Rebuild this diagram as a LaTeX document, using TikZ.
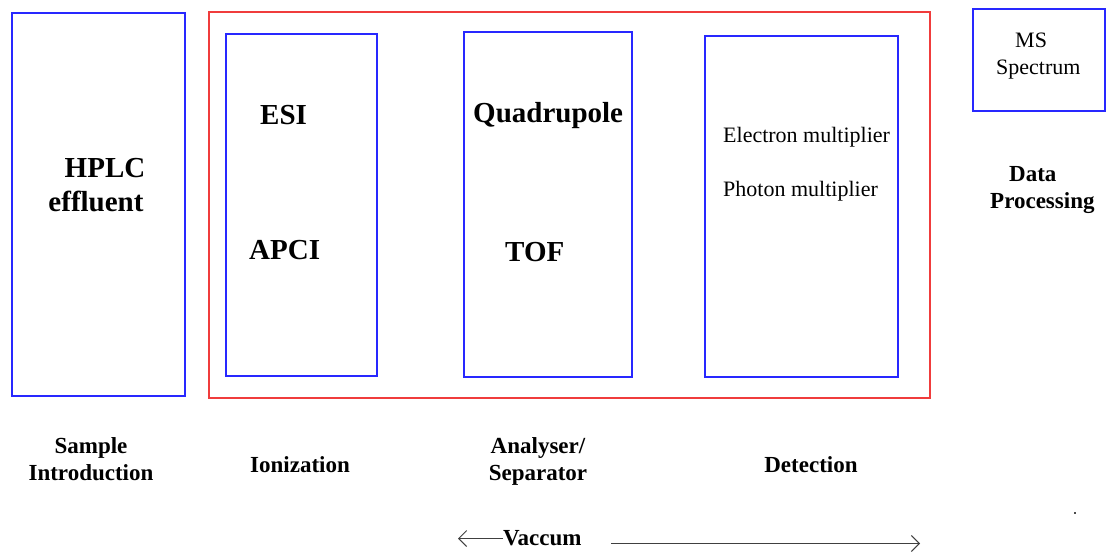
\documentclass[tikz,border=0pt]{standalone}
\usepackage{fontspec}
\setmainfont{Liberation Serif}
\usetikzlibrary{arrows.meta}
\definecolor{bxblue}{RGB}{40,40,255}
\definecolor{bxred}{RGB}{240,60,60}
\tikzset{
  bbox/.style={draw=bxblue, line width=1.7pt},
  rbox/.style={draw=bxred, line width=1.7pt},
  big/.style={font=\fontsize{29}{33}\selectfont\bfseries, inner sep=0pt},
  lab/.style={font=\fontsize{23}{27}\selectfont\bfseries, inner sep=0pt},
  small/.style={font=\fontsize{22}{26}\selectfont, inner sep=0pt},
  varrow/.style={draw=black!75, line width=1.5pt, -{Straight Barb[length=8pt,width=16pt,line width=1pt]}}
}
\begin{document}
\begin{tikzpicture}[x=1pt,y=-1pt]
\useasboundingbox (0,0) rectangle (1106,552);
% boxes
\draw[bbox] (12,13) rectangle (185,396);
\draw[rbox] (209,12) rectangle (930,398);
\draw[bbox] (226,34) rectangle (377,376);
\draw[bbox] (464,32) rectangle (632,377);
\draw[bbox] (705,36) rectangle (898,377);
\draw[bbox] (973,9) rectangle (1105,111);
% box texts
\node[big, anchor=base] (hplc) at (105,177) {HPLC};
\node[big, anchor=base] (eff) at (96,211) {effluent};
\node[big, anchor=base west] (esi) at (260,124) {ESI};
\node[big, anchor=base west] (apci) at (249,259) {APCI};
\node[big, anchor=base west] (quad) at (473,122) {Quadrupole};
\node[big, anchor=base west] (tof) at (505,261) {TOF};
\node[small, anchor=base west] (em) at (723,142) {Electron multiplier};
\node[small, anchor=base west] (pm) at (723,196) {Photon multiplier};
\node[small, anchor=base west] (ms) at (1015,47) {MS};
\node[small, anchor=base west] (spec) at (996,74) {Spectrum};
% labels
\node[lab, anchor=base west] (data) at (1009,181) {Data};
\node[lab, anchor=base west] (proc) at (990,208) {Processing};
\node[lab, anchor=base] (sample) at (91,453) {Sample};
\node[lab, anchor=base] (intro) at (91,480) {Introduction};
\node[lab, anchor=base] (ion) at (300,472) {Ionization};
\node[lab, anchor=base] (anal) at (538,453) {Analyser/};
\node[lab, anchor=base] (sep) at (538,480) {Separator};
\node[lab, anchor=base] (det) at (811,472) {Detection};
\node[lab, anchor=base west] (vac) at (503,545) {Vaccum};
% arrows
\coordinate (vl) at (458,538.5);
\coordinate (vrs) at (611,543.5);
\coordinate (vr) at (920,543.5);
\draw[varrow] (vac.west |- vl) -- (vl);
\draw[varrow] (vrs) -- (vr);
% speck
\fill[black!70] (1074,512) rectangle (1076,514);
\end{tikzpicture}
\end{document}
